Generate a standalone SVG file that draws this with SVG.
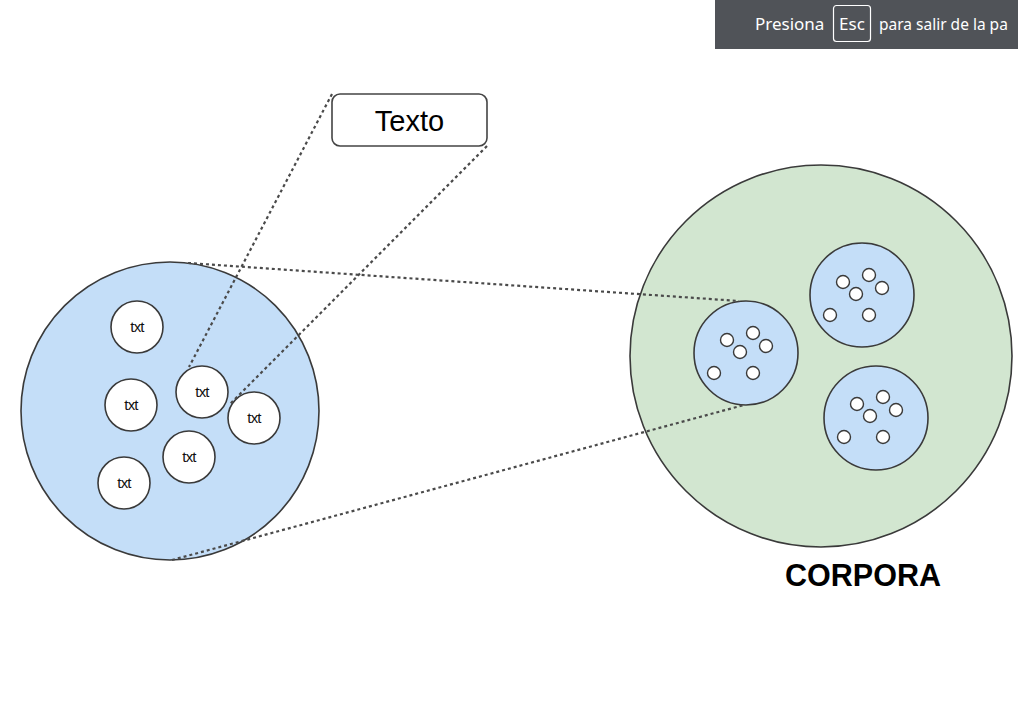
<svg xmlns="http://www.w3.org/2000/svg" width="1018" height="717" viewBox="0 0 1018 717">
<style>
.big{stroke:#3a3a3a;stroke-width:1.6}
.blue{fill:#c4def8}
.green{fill:#d2e6d0}
.node{fill:#ffffff;stroke:#3a3a3a;stroke-width:1.6}
.dot{fill:#ffffff;stroke:#3a3a3a;stroke-width:1.4}
.lbl{font-family:"Liberation Sans",Arial,sans-serif;font-size:15px;fill:#111;text-anchor:middle;letter-spacing:-0.8px}
.dash{stroke:#4a4a4a;stroke-width:2.2;stroke-dasharray:3 3;fill:none}
.ban{font-family:"Noto Sans","Open Sans",sans-serif;font-size:17px;fill:#ffffff}
.ban2{font-family:"Noto Sans","Open Sans",sans-serif;font-size:15.5px;fill:#ffffff}
</style>
<defs>
<g id="dots">
<circle class="dot" cx="-19" cy="-13" r="6.5"/>
<circle class="dot" cx="7" cy="-20" r="6.5"/>
<circle class="dot" cx="20" cy="-7" r="6.5"/>
<circle class="dot" cx="-6" cy="-1" r="6.5"/>
<circle class="dot" cx="-32" cy="20" r="6.5"/>
<circle class="dot" cx="7" cy="20" r="6.5"/>
</g>
</defs>
<rect width="1018" height="717" fill="#ffffff"/>

<g id="corpora">
<circle class="big green" cx="821" cy="356" r="191"/>
<text x="863" y="586" font-family="Liberation Sans,Arial,sans-serif" font-size="30.5" font-weight="bold" text-anchor="middle" fill="#000">CORPORA</text>
</g>
<g id="doc-left">
<circle class="big blue" cx="746" cy="353" r="52"/>
<use href="#dots" x="746" y="353"/>
</g>
<g id="doc-top">
<circle class="big blue" cx="862" cy="295" r="52"/>
<use href="#dots" x="862" y="295"/>
</g>
<g id="doc-bottom">
<circle class="big blue" cx="876" cy="418" r="52"/>
<use href="#dots" x="876" y="417"/>
</g>

<g id="document">
<circle class="big blue" cx="170" cy="411" r="149"/>
</g>
<g id="txt1"><circle class="node" cx="137" cy="327" r="26"/><text class="lbl" x="137" y="332">txt</text></g>
<g id="txt2"><circle class="node" cx="131" cy="405" r="26"/><text class="lbl" x="131" y="410">txt</text></g>
<g id="txt3"><circle class="node" cx="202" cy="392" r="26"/><text class="lbl" x="202" y="397">txt</text></g>
<g id="txt4"><circle class="node" cx="254" cy="418" r="26"/><text class="lbl" x="254" y="423">txt</text></g>
<g id="txt5"><circle class="node" cx="189" cy="457" r="26"/><text class="lbl" x="189" y="462">txt</text></g>
<g id="txt6"><circle class="node" cx="124" cy="483" r="26"/><text class="lbl" x="124" y="488">txt</text></g>

<g id="texto">
<rect x="332" y="94" width="155" height="52" rx="8" fill="#ffffff" stroke="#444" stroke-width="1.6"/>
<text x="409.5" y="131" font-family="Liberation Sans,Arial,sans-serif" font-size="29" text-anchor="middle" fill="#000">Texto</text>
</g>

<g id="connectors">
<line class="dash" x1="332" y1="94" x2="189" y2="367"/>
<line class="dash" x1="487" y1="146" x2="230" y2="404"/>
<line class="dash" x1="188" y1="263" x2="739" y2="301"/>
<line class="dash" x1="172" y1="560" x2="744" y2="405"/>
</g>

<g id="banner">
<rect x="715" y="0" width="303" height="49" fill="#505358"/>
<text class="ban" x="755" y="30">Presiona</text>
<rect x="833.5" y="5.5" width="37" height="36" rx="3" fill="none" stroke="#ffffff" stroke-width="1.2"/>
<text class="ban" x="852" y="30" text-anchor="middle">Esc</text>
<text class="ban2" x="879" y="30">para salir de la pa</text>
</g>
</svg>
